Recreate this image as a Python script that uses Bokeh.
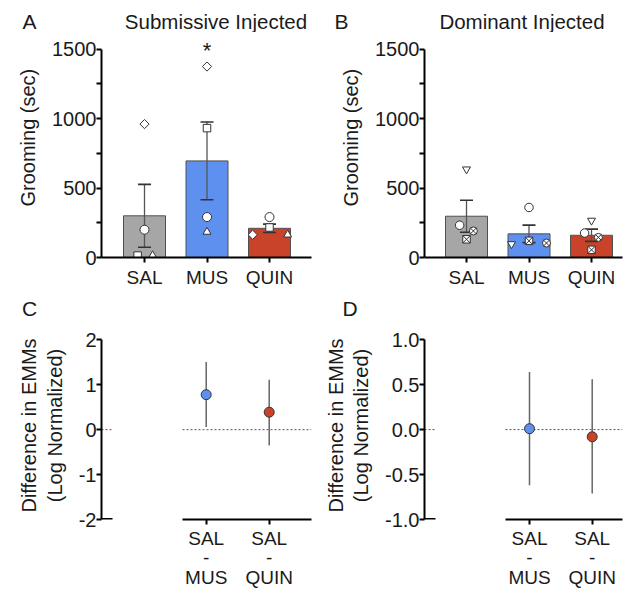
import numpy as np
from bokeh.plotting import figure
from bokeh.models import FixedTicker, Label, NumeralTickFormatter
from bokeh.layouts import column, row
from bokeh.embed import file_html
from bokeh.resources import INLINE

FONT = "Liberation Sans"

# ---------------- data ----------------
categories = ["SAL", "MUS", "QUIN"]

# Panel A: Submissive injected, grooming (sec), one value per animal per treatment
sub_diamond = [960, 1374, 164]
sub_circle = [200, 291, 291]
sub_square = [14, 931, 216]
sub_triangle = [15, 184, 164]
sub_mean = [300, 695, 210]
sub_sem = [226, 280, 30]
sub_sig = ["", "*", ""]

# Panel B: Dominant injected
dom_tri_down = [635, 97, 266]
dom_circle = [232, 360, 176]
dom_circle_x = [191, 104, 145]
dom_square_x = [131, 120, 55]
dom_mean = [297, 170, 160]
dom_sem = [115, 63, 44]

# Panels C/D: difference in EMMs (log normalized) with CI
contrasts = ["SAL\n-\nMUS", "SAL\n-\nQUIN"]
sub_diff = [0.78, 0.39]
sub_lo = [0.06, -0.35]
sub_hi = [1.51, 1.11]
dom_diff = [0.01, -0.08]
dom_lo = [-0.62, -0.71]
dom_hi = [0.64, 0.56]

panel_titles = ["Submissive Injected", "Dominant Injected"]
panel_letters = ["A", "B", "C", "D"]

# ---------------- styles ----------------
bar_colors = ["#a6a6a6", "#5e90ef", "#c9432a"]
dot_colors = ["#5e90ef", "#c9432a"]
TXT = "#1a1a1a"
NB = "\u00a0"


class Geo:
    def __init__(self, offx, offy, w, h, L, R, T, B, x1_px, x_ppu, yref_px, yref, y_ppu):
        self.offx, self.offy, self.w, self.h = offx, offy, w, h
        self.L, self.R, self.T, self.B = L, R, T, B
        self.x1_px, self.x_ppu = x1_px, x_ppu
        self.yref_px, self.yref, self.y_ppu = yref_px, yref, y_ppu

    def x(self, px):
        return 1 + (px - self.x1_px) / self.x_ppu

    def y(self, py):
        return self.yref + (self.yref_px - py) / self.y_ppu


def make_fig(g):
    p = figure(width=g.w, height=g.h,
               x_range=(g.x(g.L), g.x(g.R)), y_range=(g.y(g.B), g.y(g.T)),
               min_border_left=g.L - g.offx, min_border_right=g.offx + g.w - g.R,
               min_border_top=g.T - g.offy, min_border_bottom=g.offy + g.h - g.B,
               output_backend="svg", toolbar_location=None)
    p.outline_line_color = None
    p.xgrid.visible = False
    p.ygrid.visible = False
    p.background_fill_color = "white"
    p.border_fill_color = "white"
    for ax in (p.xaxis[0], p.yaxis[0]):
        ax.axis_line_width = 2
        ax.axis_line_color = "black"
        ax.major_tick_line_width = 2
        ax.minor_tick_line_width = 2
        ax.major_tick_line_color = "black"
        ax.minor_tick_line_color = "black"
        ax.major_tick_in = 0
        ax.minor_tick_in = 0
        ax.major_tick_out = 5
        ax.minor_tick_out = 5
        ax.major_label_text_font = FONT
        ax.major_label_text_color = TXT
        ax.axis_label_text_font = FONT
        ax.axis_label_text_font_style = "normal"
        ax.axis_label_text_color = TXT
        ax.axis_label_text_font_size = "20px"
    p.yaxis.major_label_text_font_size = "20px"
    p.xaxis.major_label_text_font_size = "19px"
    return p


def header(offx, offy, w, h, items):
    p = figure(width=w, height=h, x_range=(offx, offx + w), y_range=(offy + h, offy),
               min_border=0, x_axis_location=None, y_axis_location=None,
               output_backend="svg", toolbar_location=None)
    p.outline_line_color = None
    p.xgrid.visible = False
    p.ygrid.visible = False
    for text, px, py, size in items:
        p.add_layout(Label(x=px, y=py, text=text, text_font=FONT, text_font_size=size,
                           text_color=TXT, text_align="center", text_baseline="middle"))
    return p


def bar_panel(g, means, sems, series, sig=None):
    p = make_fig(g)
    xs = [1, 2, 3]
    p.vbar(x=xs, top=means, bottom=0, width=42 / g.x_ppu, fill_color=bar_colors,
           line_color="#505050", line_width=1)
    lo = [m - s for m, s in zip(means, sems)]
    hi = [m + s for m, s in zip(means, sems)]
    p.segment(x0=xs, y0=lo, x1=xs, y1=hi, line_color="#555555", line_width=1.3)
    p.scatter(x=xs + xs, y=lo + hi, marker="dash", size=13, line_color="#333333", line_width=1.6)
    for vals, marker, angle, size, offs in series:
        p.scatter(x=[x + o for x, o in zip(xs, offs)], y=vals, marker=marker, size=size,
                  angle=angle, fill_color="white", line_color="#333333", line_width=1)
    if sig is not None:
        for x, s in zip(xs, sig):
            if s:
                p.add_layout(Label(x=x, y=g.y(50), text=s, text_font=FONT, text_font_size="22px",
                                   text_color=TXT, text_align="center", text_baseline="middle"))
    p.yaxis.ticker = FixedTicker(ticks=[0, 500, 1000, 1500], minor_ticks=[250, 750, 1250])
    p.yaxis.bounds = (0, 1500)
    p.yaxis.axis_label = NB * 3 + "Grooming (sec)"
    p.yaxis.axis_label_standoff = 10
    p.yaxis.major_label_standoff = 0
    p.xaxis.ticker = FixedTicker(ticks=xs, minor_ticks=[])
    p.xaxis.major_label_overrides = {x: c for x, c in zip(xs, categories)}
    p.xaxis.major_label_standoff = 4
    return p


def diff_panel(g, diff, lo, hi, ymin, ymax, ticks, fmt, seg_gap_px):
    p = make_fig(g)
    xs = [1, 2]
    x0 = g.x(g.L)
    x_end = g.x(g.R)
    stub_end = g.x(g.L + 11)
    axis_start = g.x(seg_gap_px)
    p.segment(x0=[x0, axis_start], y0=[0, 0], x1=[stub_end, x_end], y1=[0, 0],
              line_color="#555555", line_width=1, line_dash="2 2")
    p.segment(x0=[x0], y0=[ymin], x1=[stub_end], y1=[ymin], line_color="black", line_width=3)
    p.segment(x0=xs, y0=lo, x1=xs, y1=hi, line_color="#666666", line_width=1.5)
    p.scatter(x=xs, y=diff, size=10, fill_color=dot_colors, line_color="#333333", line_width=1)
    p.yaxis.ticker = FixedTicker(ticks=ticks, minor_ticks=[])
    p.yaxis.formatter = NumeralTickFormatter(format=fmt)
    p.yaxis.bounds = (ymin, ymax)
    p.yaxis.axis_label = "Difference in EMMs\n(Log Normalized)"
    p.yaxis.axis_label_standoff = 10
    p.yaxis.axis_label_text_line_height = 1.15
    p.yaxis.major_label_standoff = 0
    p.xaxis.ticker = FixedTicker(ticks=xs, minor_ticks=[])
    p.xaxis.major_label_overrides = {x: c for x, c in zip(xs, contrasts)}
    p.xaxis.major_label_text_line_height = 0.95
    p.xaxis.major_label_standoff = 3
    p.xaxis.bounds = (axis_start, x_end)
    return p


# page geometry (pixels)
gA = Geo(0, 32, 318, 258, 101, 311, 34, 258, 144, 62.5, 258, 0, 0.1396)
gB = Geo(318, 32, 305, 258, 424, 622, 34, 258, 466, 62.5, 258, 0, 0.1396)
gC = Geo(0, 318, 318, 277, 101, 311, 331, 519, 205.7, 63, 519, -2, 44.9)
gD = Geo(318, 318, 305, 277, 424, 622, 331, 519, 529, 62.7, 519, -1, 89.9)

q = np.pi / 4
pA = bar_panel(gA, sub_mean, sub_sem, [
    (sub_diamond, "square", q, 6.5, [0, 0, -0.27]),
    (sub_circle, "circle", 0, 9, [0, 0, 0]),
    (sub_square, "square", 0, 7.5, [-0.11, 0, 0]),
    (sub_triangle, "triangle", 0, 8, [0.13, 0, 0.29]),
], sig=sub_sig)

pB = bar_panel(gB, dom_mean, dom_sem, [
    (dom_tri_down, "inverted_triangle", 0, 8, [0, -0.28, 0]),
    (dom_circle, "circle", 0, 8.5, [-0.11, 0, -0.11]),
    (dom_circle_x, "circle_x", 0, 8, [0.11, 0.28, 0.11]),
    (dom_square_x, "square_x", 0, 7.5, [0, 0, 0]),
])

pC = diff_panel(gC, sub_diff, sub_lo, sub_hi, -2, 2, [-2, -1, 0, 1, 2], "0", 182)
pD = diff_panel(gD, dom_diff, dom_lo, dom_hi, -1, 1, [-1, -0.5, 0, 0.5, 1], "0.0", 505)

hA = header(0, 0, 318, 32, [(panel_letters[0], 29, 21, "21px"), (panel_titles[0], 215.5, 21, "20.5px")])
hB = header(318, 0, 305, 32, [(panel_letters[1], 341, 21, "21px"), (panel_titles[1], 521.5, 21, "20.5px")])
hC = header(0, 290, 318, 28, [(panel_letters[2], 29, 307.5, "21px")])
hD = header(318, 290, 305, 28, [(panel_letters[3], 349.5, 307.5, "21px")])

layout = column(row(hA, hB), row(pA, pB), row(hC, hD), row(pC, pD))
open("out.html", "w").write(file_html(layout, INLINE))
